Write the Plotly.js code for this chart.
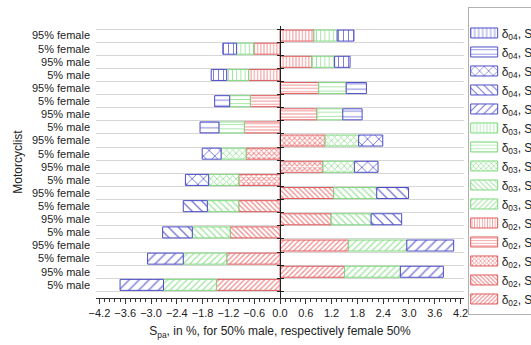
<!DOCTYPE html>
<html>
<head>
<meta charset="utf-8">
<script src="https://cdn.plot.ly/plotly-3.0.1.min.js"></script>
<style>
  html, body { margin: 0; padding: 0; background: #ffffff; }
  #chart { width: 531px; height: 345px; }
</style>
</head>
<body>
<div id="chart"></div>
<script>
// Row labels inside each S_s block, top to bottom
const rowLabels = ['95% female', '5% female', '95% male', '5% male'];
// S_s blocks, top to bottom
const groups = ['s5', 's4', 's3', 's2', 's1'];
// delta series, in stacking order from the zero line outwards
const deltas = ['02', '03', '04'];

// S_pa segment per row (%): positive = 95th percentile side, negative = 5th percentile side
const d02_s5 = [0.79, -0.61, 0.74, -0.73];
const d03_s5 = [0.54, -0.40, 0.53, -0.51];
const d04_s5 = [0.39, -0.32, 0.36, -0.36];

const d02_s4 = [0.90, -0.69, 0.86, -0.83];
const d03_s4 = [0.64, -0.48, 0.60, -0.59];
const d04_s4 = [0.47, -0.35, 0.45, -0.44];

const d02_s3 = [1.05, -0.79, 1.00, -0.96];
const d03_s3 = [0.78, -0.58, 0.73, -0.70];
const d04_s3 = [0.56, -0.44, 0.55, -0.54];

const d02_s2 = [1.25, -0.96, 1.19, -1.16];
const d03_s2 = [1.00, -0.73, 0.93, -0.88];
const d04_s2 = [0.74, -0.56, 0.71, -0.69];

const d02_s1 = [1.59, -1.24, 1.50, -1.48];
const d03_s1 = [1.36, -1.01, 1.30, -1.23];
const d04_s1 = [1.09, -0.83, 1.00, -1.01];

const values = {
  '02': { s5: d02_s5, s4: d02_s4, s3: d02_s3, s2: d02_s2, s1: d02_s1 },
  '03': { s5: d03_s5, s4: d03_s4, s3: d03_s3, s2: d03_s2, s1: d03_s1 },
  '04': { s5: d04_s5, s4: d04_s4, s3: d04_s3, s2: d04_s2, s1: d04_s1 }
};

// styling
const colors = {
  '02': { line: '#e05a5c', fg: '#ef8c8d' },
  '03': { line: '#7ed87e', fg: '#9fe49f' },
  '04': { line: '#4b4bc8', fg: '#7272d6' }
};
const hatch = { s5: '|', s4: '-', s3: 'x', s2: '\\', s1: '/' };
const patSize = {
  '02': { '|': 3.2, '-': 3.2, 'x': 3.6, '\\': 3.6, '/': 3.6 },
  '03': { '|': 4.2, '-': 4.2, 'x': 4.5, '\\': 4.6, '/': 4.6 },
  '04': { '|': 5, '-': 5.5, 'x': 8, '\\': 7, '/': 7 }
};
function solidityFor(shape, size, lw) {
  if (shape === '|' || shape === '-') return Math.min(1, lw / size);
  if (shape === 'x') return 1 - Math.pow(1 - lw / size, 2);
  return Math.min(1, lw * Math.SQRT2 / size);
}

const nRows = groups.length * rowLabels.length;
const rowPos = Array.from({ length: nRows }, (_, i) => i);
const rowText = groups.flatMap(() => rowLabels);

const traces = [];
deltas.forEach(d => {
  [...groups].reverse().forEach(g => {
    const gi = groups.indexOf(g);
    const shape = hatch[g];
    const size = patSize[d][shape];
    traces.push({
      type: 'bar',
      orientation: 'h',
      name: 'δ<sub>' + d + '</sub>, S<sub>' + g + '</sub>',
      y: rowLabels.map((_, k) => gi * rowLabels.length + k),
      x: values[d][g],
      width: 0.84,
      marker: {
        color: '#ffffff',
        line: { color: colors[d].line, width: 1 },
        pattern: {
          shape: shape,
          size: size,
          solidity: solidityFor(shape, size, 0.9),
          fgcolor: colors[d].fg,
          bgcolor: '#ffffff',
          fillmode: 'replace'
        }
      },
      hoverinfo: 'x+name'
    });
  });
});

const yRange = [20.0, -0.73];
const font = { family: 'Liberation Sans, Arial, sans-serif', size: 11, color: '#222222' };
const boundaries = Array.from({ length: nRows + 1 }, (_, i) => i - 0.5);

const layout = {
  width: 531,
  height: 345,
  margin: { l: 96, r: 67, t: 26, b: 47, autoexpand: false },
  paper_bgcolor: '#ffffff',
  plot_bgcolor: '#ffffff',
  font: font,
  barmode: 'relative',
  showlegend: true,
  legend: {
    x: 1.01, xanchor: 'left',
    y: 1.0696, yanchor: 'top',
    traceorder: 'reversed',
    maxheight: 340,
    bordercolor: '#b0b0b0',
    borderwidth: 1,
    bgcolor: '#ffffff',
    font: { family: 'Liberation Sans, Arial, sans-serif', size: 12, color: '#222222' },
    title: { text: '\u00a0', font: { size: 8 } },
    itemclick: false
  },
  xaxis: {
    range: [-4.28, 4.28],
    tickmode: 'linear', tick0: 0, dtick: 0.6,
    tickformat: '.1f',
    ticks: 'outside', ticklen: 5, tickcolor: '#333333', tickwidth: 1,
    minor: { dtick: 0.12, tick0: 0, ticks: 'outside', ticklen: 3, tickcolor: '#333333', showgrid: false },
    showline: true, linecolor: '#333333', linewidth: 1,
    showgrid: false, zeroline: false,
    tickfont: font,
    title: { text: 'S<sub>pa</sub>, in %, for 50% male, respectively female 50%', font: { family: 'Liberation Sans, Arial, sans-serif', size: 12, color: '#222222' }, standoff: 8 },
    fixedrange: true
  },
  yaxis: {
    range: yRange,
    tickmode: 'array', tickvals: rowPos, ticktext: rowText,
    ticks: '', showgrid: false, zeroline: false, showline: false,
    ticklabelstandoff: 5,
    tickfont: font,
    title: { text: 'Motorcyclist', font: { family: 'Liberation Sans, Arial, sans-serif', size: 12, color: '#222222' }, standoff: 6 },
    fixedrange: true
  },
  // row separators plus the tick marks on the zero line (left half)
  yaxis2: {
    overlaying: 'y', anchor: 'free', position: 0.5, side: 'left',
    range: yRange,
    tickmode: 'array', tickvals: boundaries,
    showticklabels: false,
    ticks: 'outside', ticklen: 3, tickcolor: '#222222',
    showgrid: true, gridcolor: '#d6d6d6', gridwidth: 1,
    showline: true, linecolor: '#222222', linewidth: 1,
    zeroline: false, layer: 'above traces', fixedrange: true
  },
  // tick marks on the zero line (right half)
  yaxis3: {
    overlaying: 'y', anchor: 'free', position: 0.5, side: 'right',
    range: yRange,
    tickmode: 'array', tickvals: boundaries,
    showticklabels: false,
    ticks: 'outside', ticklen: 3, tickcolor: '#222222',
    showgrid: false, showline: false, zeroline: false,
    layer: 'above traces', fixedrange: true
  }
};

// invisible carriers so the overlay axes are drawn
traces.push({ type: 'scatter', x: [], y: [], yaxis: 'y2', showlegend: false, hoverinfo: 'skip' });
traces.push({ type: 'scatter', x: [], y: [], yaxis: 'y3', showlegend: false, hoverinfo: 'skip' });

Plotly.newPlot('chart', traces, layout, { displayModeBar: false, staticPlot: true })
  .then(gd => {
    // wide, flat legend swatches with the label set closer to them
    gd.querySelectorAll('.legend .traces').forEach(item => {
      item.querySelectorAll('.legendpoints path').forEach(p => p.setAttribute('d', 'M9,5H-18V-5H9Z'));
      const label = item.querySelector('text.legendtext');
      if (label) label.setAttribute('x', 33);
    });
  });
</script>
</body>
</html>
